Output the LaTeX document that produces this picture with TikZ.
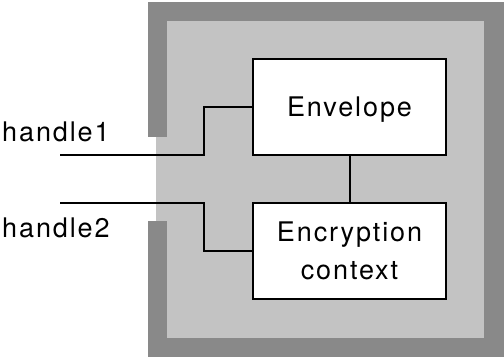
\documentclass[tikz,border=0pt]{standalone}
\usepackage{fontspec}
\newfontfamily\labfont[LetterSpace=7]{TeX Gyre Heros}
\definecolor{framedark}{HTML}{898989}
\definecolor{framelight}{HTML}{C3C3C3}
\begin{document}
\begin{tikzpicture}[x=1pt,y=-1pt,
  lab/.style={font=\labfont\fontsize{27}{38}\selectfont, inner sep=0pt},
  blockbox/.style={draw=black, line width=2pt, fill=white, minimum width=193pt,
    minimum height=96pt, inner sep=0pt, align=center, text depth=0pt,
    font=\labfont\fontsize{27}{38}\selectfont},
  wire/.style={draw=black, line width=2pt}]
\useasboundingbox (0,0) rectangle (504,357);
% container frame
\fill[framedark] (148,2) rectangle (504,357);
\fill[framelight] (167,21) rectangle (484,338);
\fill[white] (148,137) rectangle (156,221);
\fill[framelight] (156,137) rectangle (167,221);
% blocks
\node[blockbox] (env) at (349.5,107) {Envelope};
\node[blockbox] (enc) at (349.5,251) {Encryption\\context};
% handles
\coordinate (h1) at (60,155);
\coordinate (h2) at (60,203);
\node[lab, anchor=base west] (h1label) at (2,141) {handle1};
\node[lab, anchor=base west] (h2label) at (2,237) {handle2};
% connectors
\draw[wire] (h1) -| ([xshift=-48pt]env.west) -- (env.west);
\draw[wire] (h2) -| ([xshift=-48pt]enc.west) -- (enc.west);
\draw[wire] (env.south) -- (enc.north);
\end{tikzpicture}
\end{document}
